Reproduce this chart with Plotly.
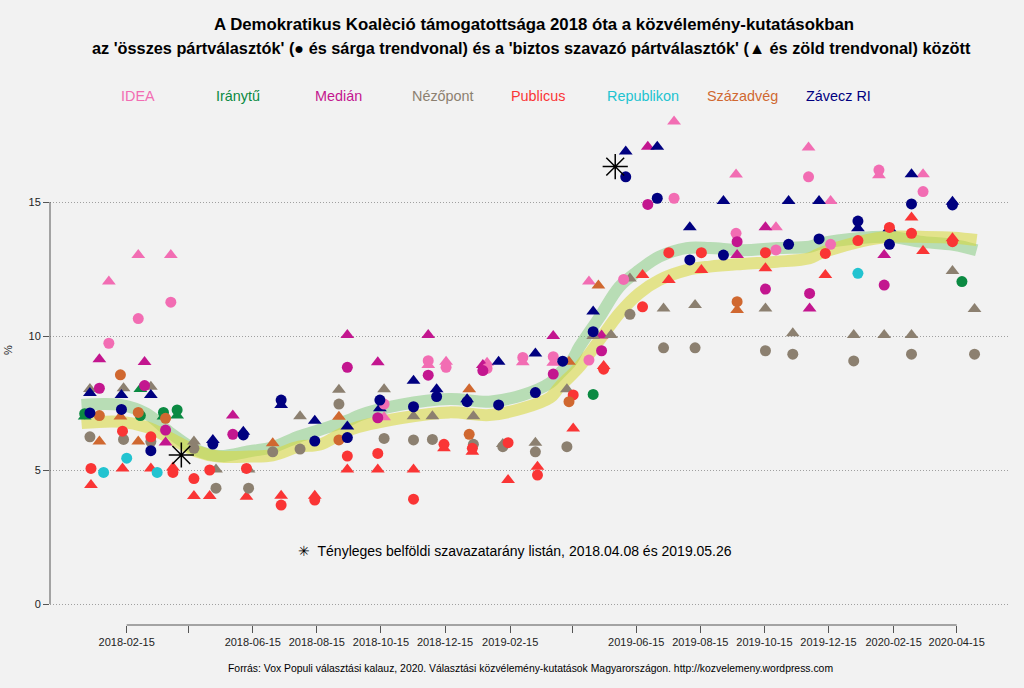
import pandas as pd
import plotly.graph_objects as go

# ---------------- data ----------------
POLLSTERS = ["IDEA", "Iránytű", "Medián", "Nézőpont", "Publicus", "Republikon", "Századvég", "Závecz RI"]
COLORS = ["#F26DB3", "#0B8A42", "#C3168F", "#8C8070", "#FA3535", "#22C3D0", "#D06830", "#000080"]

IDEA_ALL_D = ["2018-01-29", "2018-02-26", "2018-03-29", "2018-10-18", "2018-11-29", "2018-12-16", "2019-01-24",
              "2019-02-27", "2019-03-28", "2019-05-01", "2019-06-03", "2019-07-21", "2019-09-18", "2019-10-26",
              "2019-11-26", "2019-12-17", "2020-02-01", "2020-03-14"]
IDEA_ALL_V = [9.73, 10.65, 11.26, 7.46, 9.08, 8.83, 8.79, 9.2, 9.23, 9.1, 12.11, 15.14, 13.83, 13.21, 15.94, 13.42,
              16.19, 15.39]
IDEA_SURE_D = ["2018-01-29", "2018-02-26", "2018-03-29", "2018-10-18", "2018-11-29", "2018-12-16", "2019-01-24",
               "2019-02-27", "2019-03-28", "2019-05-01", "2019-07-21", "2019-09-18", "2019-10-26", "2019-11-26",
               "2019-12-17", "2020-02-01", "2020-03-14"]
IDEA_SURE_V = [12.03, 13.02, 13.02, 6.97, 8.92, 9.04, 9.0, 9.02, 9.0, 12.03, 18.0, 16.03, 14.06, 17.03, 15.04, 16.0,
               16.04]

IRANYTU_ALL_D = ["2018-01-06", "2018-02-28", "2018-03-22", "2018-04-04", "2019-05-05", "2020-04-20"]
IRANYTU_ALL_V = [7.1, 7.03, 7.15, 7.24, 7.82, 12.03]
IRANYTU_SURE_D = ["2018-01-06", "2018-02-28", "2018-03-22", "2018-04-04"]
IRANYTU_SURE_V = [7.0, 8.02, 7.0, 7.03]

MEDIAN_D = ["2018-01-20", "2018-03-04", "2018-03-24", "2018-05-27", "2018-09-13", "2018-10-12", "2018-11-29",
            "2019-01-20", "2019-03-28", "2019-05-13", "2019-06-26", "2019-09-19", "2019-10-16", "2019-11-27",
            "2020-02-06"]
MEDIAN_ALL_V = [8.05, 8.15, 6.49, 6.33, 8.83, 6.95, 8.54, 8.71, 8.58, 9.45, 14.91, 13.52, 11.75, 11.59, 11.9]
MEDIAN_SURE_V = [9.13, 9.03, 6.03, 7.03, 10.04, 9.02, 10.04, 8.92, 10.0, 10.02, 17.06, 13.02, 14.06, 11.03, 13.02]

NEZOPONT_ALL_D = ["2018-01-11", "2018-02-12", "2018-03-10", "2018-04-20", "2018-05-11", "2018-06-11", "2018-07-04",
                  "2018-07-30", "2018-09-05", "2018-10-18", "2018-11-15", "2018-12-03", "2019-01-11", "2019-02-08",
                  "2019-03-11", "2019-04-10", "2019-06-09", "2019-07-11", "2019-08-10", "2019-10-16", "2019-11-11",
                  "2020-01-08", "2020-03-03", "2020-05-02"]
NEZOPONT_ALL_V = [6.24, 6.14, 6.06, 5.81, 4.32, 4.32, 5.68, 5.78, 7.46, 6.18, 6.12, 6.14, 5.96, 5.87, 5.68, 5.87,
                  10.81, 9.56, 9.56, 9.45, 9.32, 9.07, 9.32, 9.32]
NEZOPONT_SURE_D = ["2018-01-11", "2018-02-12", "2018-03-10", "2018-04-20", "2018-05-11", "2018-06-11", "2018-07-30",
                   "2018-09-05", "2018-10-18", "2018-11-15", "2018-12-03", "2019-01-11", "2019-02-08", "2019-03-11",
                   "2019-04-10", "2019-05-05", "2019-05-22", "2019-06-09", "2019-07-11", "2019-08-10", "2019-10-16",
                   "2019-11-11", "2020-01-08", "2020-02-06", "2020-03-03", "2020-04-11", "2020-05-02"]
NEZOPONT_SURE_V = [8.02, 8.05, 8.11, 6.06, 5.02, 5.02, 7.01, 7.99, 8.01, 7.01, 7.01, 7.01, 5.97, 6.02, 8.01, 10.0,
                   10.04, 12.15, 11.03, 11.16, 11.03, 10.1, 10.04, 10.04, 10.04, 12.43, 11.01]

PUBLICUS_ALL_D = ["2018-01-12", "2018-02-11", "2018-03-10", "2018-03-31", "2018-04-20", "2018-05-05", "2018-06-09",
                  "2018-07-12", "2018-08-13", "2018-09-13", "2018-10-12", "2018-11-15", "2018-12-14", "2019-01-10",
                  "2019-02-13", "2019-03-13", "2019-04-16", "2019-05-15", "2019-06-21", "2019-07-16", "2019-08-16",
                  "2019-10-16", "2019-12-12", "2020-01-12", "2020-02-11", "2020-03-03", "2020-04-11"]
PUBLICUS_ALL_V = [5.06, 6.45, 6.24, 4.91, 4.68, 5.0, 5.06, 3.69, 3.88, 5.52, 5.62, 3.91, 5.96, 5.81, 6.02, 4.81, 7.8,
                  8.76, 11.09, 13.11, 13.11, 13.11, 13.08, 13.56, 14.05, 13.83, 13.52]
PUBLICUS_SURE_D = ["2018-01-12", "2018-02-11", "2018-03-10", "2018-03-31", "2018-04-20", "2018-05-05", "2018-06-09",
                   "2018-07-12", "2018-08-13", "2018-09-13", "2018-10-12", "2018-11-15", "2018-12-14", "2019-01-10",
                   "2019-02-13", "2019-03-13", "2019-04-16", "2019-05-15", "2019-06-21", "2019-07-16", "2019-08-16",
                   "2019-10-16", "2019-12-12", "2020-03-03", "2020-03-14", "2020-04-11"]
PUBLICUS_SURE_V = [4.44, 5.06, 5.06, 5.09, 4.03, 4.03, 4.0, 4.04, 4.04, 5.02, 5.02, 5.02, 5.81, 5.68, 4.63, 5.12,
                   6.55, 8.88, 12.28, 12.09, 12.46, 12.53, 12.28, 14.42, 13.17, 13.65]

REPUBLIKON_ALL_D = ["2018-01-24", "2018-02-15", "2018-03-16", "2020-01-12"]
REPUBLIKON_ALL_V = [4.91, 5.44, 4.91, 12.34]

SZAZADVEG_ALL_D = ["2018-01-20", "2018-02-09", "2018-02-26", "2018-03-24", "2018-09-05", "2019-01-07", "2019-04-12",
                   "2019-09-19"]
SZAZADVEG_ALL_V = [7.03, 8.55, 7.15, 6.93, 6.12, 6.33, 7.55, 11.28]
SZAZADVEG_SURE_D = ["2018-01-20", "2018-02-09", "2018-02-26", "2018-07-04", "2018-09-05", "2019-01-07", "2019-04-12",
                    "2019-05-10", "2019-09-19"]
SZAZADVEG_SURE_V = [6.06, 7.0, 6.06, 6.0, 6.99, 8.01, 9.04, 11.88, 10.97]

ZAVECZ_ALL_D = ["2018-01-11", "2018-02-10", "2018-03-10", "2018-05-08", "2018-06-06", "2018-07-12", "2018-08-13",
                "2018-09-13", "2018-10-14", "2018-11-15", "2018-12-07", "2019-01-05", "2019-02-04", "2019-03-11",
                "2019-04-06", "2019-05-05", "2019-06-05", "2019-07-05", "2019-08-05", "2019-09-06", "2019-11-07",
                "2019-12-06", "2020-01-12", "2020-02-11", "2020-03-03", "2020-04-11"]
ZAVECZ_ALL_V = [7.13, 7.26, 5.72, 5.97, 6.31, 7.61, 6.08, 6.21, 7.61, 7.36, 7.74, 7.55, 7.43, 7.89, 9.06, 10.16,
                15.94, 15.14, 12.84, 13.02, 13.42, 13.62, 14.29, 13.42, 14.93, 14.89]
ZAVECZ_SURE_D = ["2018-01-11", "2018-02-10", "2018-03-10", "2018-05-08", "2018-06-06", "2018-07-12", "2018-08-13",
                 "2018-09-13", "2018-10-14", "2018-11-15", "2018-12-07", "2019-01-05", "2019-02-04", "2019-03-11",
                 "2019-05-05", "2019-06-05", "2019-07-05", "2019-08-05", "2019-09-06", "2019-11-07", "2019-12-06",
                 "2020-01-12", "2020-02-11", "2020-03-03", "2020-04-11"]
ZAVECZ_SURE_V = [7.87, 7.8, 7.8, 6.12, 6.43, 7.43, 6.84, 6.62, 7.3, 8.33, 8.01, 7.64, 9.04, 9.35, 10.91, 16.88,
                 17.06, 14.06, 15.04, 15.04, 15.04, 14.02, 14.02, 16.04, 15.01]

# trend lines
TREND_SURE_D = ["2018-01-03", "2018-02-09", "2018-03-06", "2018-03-28", "2018-04-22", "2018-05-14", "2018-06-12",
                "2018-07-04", "2018-07-29", "2018-08-18", "2018-09-15", "2018-09-25", "2018-11-02", "2018-12-19",
                "2019-01-26", "2019-02-27", "2019-03-25", "2019-04-03", "2019-04-15", "2019-04-22", "2019-05-11",
                "2019-05-30", "2019-06-18", "2019-07-07", "2019-08-02", "2019-08-24", "2019-09-24", "2019-10-27",
                "2019-11-27", "2019-12-07", "2020-01-14", "2020-02-11", "2020-03-11", "2020-04-12", "2020-05-04"]
TREND_SURE_V = [7.43, 7.43, 7.1, 6.4, 5.75, 5.52, 5.7, 5.85, 6.25, 6.5, 6.87, 7.05, 7.43, 7.65, 7.55, 7.8, 8.25,
                8.6, 9.1, 9.6, 10.7, 11.84, 12.46, 12.96, 13.28, 13.28, 13.2, 13.28, 13.33, 13.45, 13.66, 13.7,
                13.52, 13.4, 13.2]
TREND_ALL_D = ["2018-01-03", "2018-02-09", "2018-03-06", "2018-03-28", "2018-04-22", "2018-05-14", "2018-06-12",
               "2018-07-04", "2018-07-29", "2018-08-18", "2018-09-15", "2018-11-02", "2018-12-19", "2019-01-26",
               "2019-02-27", "2019-03-25", "2019-04-03", "2019-04-22", "2019-05-11", "2019-05-30", "2019-06-18",
               "2019-07-07", "2019-08-02", "2019-08-24", "2019-09-24", "2019-10-27", "2019-11-27", "2019-12-07",
               "2020-01-14", "2020-02-11", "2020-03-11", "2020-04-12", "2020-05-04"]
TREND_ALL_V = [6.75, 6.8, 6.6, 6.2, 5.7, 5.5, 5.5, 5.55, 5.87, 5.95, 6.5, 6.93, 7.15, 7.05, 7.3, 7.7, 8.1, 8.86,
               9.85, 10.85, 11.6, 12.09, 12.46, 12.59, 12.69, 12.77, 12.9, 13.08, 13.52, 13.7, 13.7, 13.67, 13.58]

ELECTION_D = ["2018-04-08", "2019-05-26"]
ELECTION_V = [5.56, 16.32]

X_TICKS = ["2018-02-15", "2018-04-15", "2018-06-15", "2018-08-15", "2018-10-15", "2018-12-15", "2019-02-15",
           "2019-04-15", "2019-06-15", "2019-08-15", "2019-10-15", "2019-12-15", "2020-02-15", "2020-04-15"]
X_TICK_TEXT = ["2018-02-15", "", "2018-06-15", "2018-08-15", "2018-10-15", "2018-12-15", "2019-02-15",
               "", "2019-06-15", "2019-08-15", "2019-10-15", "2019-12-15", "2020-02-15", "2020-04-15"]
Y_TICKS = [0, 5, 10, 15]

TITLE1 = "A Demokratikus Koalèció támogatottsága 2018 óta a közvélemény-kutatásokban"
TITLE2 = ("az 'összes pártválasztók' (● és sárga trendvonal) és a 'biztos szavazó pártválasztók' "
          "(▲ és zöld trendvonal) között")
NOTE = "✳  Tényleges belföldi szavazatarány listán, 2018.04.08 és 2019.05.26"
SOURCE = ("Forrás: Vox Populi választási kalauz, 2020. Választási közvélemény-kutatások Magyarországon. "
          "http://kozvelemeny.wordpress.com")

ALL_SERIES = [(IDEA_ALL_D, IDEA_ALL_V), (IRANYTU_ALL_D, IRANYTU_ALL_V), (MEDIAN_D, MEDIAN_ALL_V),
              (NEZOPONT_ALL_D, NEZOPONT_ALL_V), (PUBLICUS_ALL_D, PUBLICUS_ALL_V),
              (REPUBLIKON_ALL_D, REPUBLIKON_ALL_V), (SZAZADVEG_ALL_D, SZAZADVEG_ALL_V),
              (ZAVECZ_ALL_D, ZAVECZ_ALL_V)]
SURE_SERIES = [(IDEA_SURE_D, IDEA_SURE_V), (IRANYTU_SURE_D, IRANYTU_SURE_V), (MEDIAN_D, MEDIAN_SURE_V),
               (NEZOPONT_SURE_D, NEZOPONT_SURE_V), (PUBLICUS_SURE_D, PUBLICUS_SURE_V), ([], []),
               (SZAZADVEG_SURE_D, SZAZADVEG_SURE_V), (ZAVECZ_SURE_D, ZAVECZ_SURE_V)]

# ---------------- figure ----------------
FONT = "Liberation Sans, Arial, sans-serif"
BG = "#F2F2F2"

fig = go.Figure()

fig.add_trace(go.Scatter(x=TREND_SURE_D, y=TREND_SURE_V, mode="lines", line_shape="spline",
                         line=dict(color="rgba(125,200,120,0.5)", width=12), hoverinfo="skip"))
fig.add_trace(go.Scatter(x=TREND_ALL_D, y=TREND_ALL_V, mode="lines", line_shape="spline",
                         line=dict(color="rgba(215,215,55,0.55)", width=12), hoverinfo="skip"))

for name, col, (d, v) in zip(POLLSTERS, COLORS, SURE_SERIES):
    if d:
        fig.add_trace(go.Scatter(x=d, y=v, mode="markers", name=name,
                                 marker=dict(symbol="triangle-up", size=12, color=col, line=dict(width=0))))
for name, col, (d, v) in zip(POLLSTERS, COLORS, ALL_SERIES):
    fig.add_trace(go.Scatter(x=d, y=v, mode="markers", name=name,
                             marker=dict(symbol="circle", size=11, color=col, line=dict(width=0))))

fig.add_trace(go.Scatter(x=ELECTION_D, y=ELECTION_V, mode="markers",
                         marker=dict(symbol="asterisk-open", size=21, color="black",
                                     line=dict(width=1.5, color="black"))))

# plot-region geometry (pixels)
L, R, T, B = 50, 1010, 102, 625
W, H = 1024, 688
PX_PER_DAY = 1.0506
X0_PX = 126.7
base = pd.Timestamp("2018-02-15")
x_lo = base + pd.Timedelta(days=(L - X0_PX) / PX_PER_DAY)
x_hi = base + pd.Timedelta(days=(R - X0_PX) / PX_PER_DAY)
PX_PER_UNIT = 26.8
Y0_PX = 604
y_lo = -(B - Y0_PX) / PX_PER_UNIT
y_hi = y_lo + (B - T) / PX_PER_UNIT


def py(p):
    return (B - p) / (B - T)


def px(p):
    return (p - L) / (R - L)


fig.update_layout(
    width=W, height=H,
    margin=dict(l=L, r=W - R, t=T, b=H - B, pad=0),
    paper_bgcolor=BG, plot_bgcolor=BG,
    showlegend=False,
    font=dict(family=FONT, color="#222"),
    xaxis=dict(type="date", range=[x_lo.strftime("%Y-%m-%d %H:%M"), x_hi.strftime("%Y-%m-%d %H:%M")],
               tickvals=X_TICKS, ticktext=X_TICK_TEXT, ticks="outside", ticklen=7, tickcolor="#555",
               tickfont=dict(size=11, color="#222"), showgrid=False, zeroline=False, showline=False),
    yaxis=dict(range=[y_lo, y_hi], tickvals=Y_TICKS, ticks="outside", ticklen=6, tickcolor="#555",
               tickfont=dict(size=11, color="#222"), showgrid=True, gridcolor="#A0A0A0", griddash="1px,2px",
               gridwidth=1, zeroline=False, showline=False),
)

# axis lines spanning only the tick range (base-R style)
fig.add_shape(type="line", xref="x", yref="paper", x0=X_TICKS[0], x1=X_TICKS[-1], y0=0, y1=0,
              line=dict(color="#555", width=1))
fig.add_shape(type="line", xref="paper", yref="y", x0=0, x1=0, y0=Y_TICKS[0], y1=Y_TICKS[-1],
              line=dict(color="#555", width=1))

ann = []
ann.append(dict(text="<b>" + TITLE1 + "</b>", x=px(534), y=py(25), xref="paper", yref="paper",
                showarrow=False, font=dict(size=16.8, color="black"), xanchor="center", yanchor="middle"))
ann.append(dict(text="<b>" + TITLE2 + "</b>", x=px(531), y=py(48), xref="paper", yref="paper",
                showarrow=False, font=dict(size=16.3, color="black"), xanchor="center", yanchor="middle"))
LEG_X = [138, 238, 338, 443, 538, 643, 742, 838]
for name, col, lx in zip(POLLSTERS, COLORS, LEG_X):
    ann.append(dict(text=name, x=px(lx), y=py(96), xref="paper", yref="paper", showarrow=False,
                    font=dict(size=14.4, color=col), xanchor="center", yanchor="middle"))
ann.append(dict(text=NOTE, x=px(296), y=py(551), xref="paper", yref="paper", showarrow=False,
                font=dict(size=14, color="black"), xanchor="left", yanchor="middle"))
ann.append(dict(text=SOURCE, x=px(530), y=py(668), xref="paper", yref="paper", showarrow=False,
                font=dict(size=10.4, color="black"), xanchor="center", yanchor="middle"))
ann.append(dict(text="%", x=px(8), y=py(350), xref="paper", yref="paper", showarrow=False, textangle=-90,
                font=dict(size=11, color="#222"), xanchor="center", yanchor="middle"))
fig.update_layout(annotations=ann)

fig.write_html("out.html", config={"displayModeBar": False},
               post_script="document.body.style.margin='0px';document.body.style.background='#F2F2F2';")
